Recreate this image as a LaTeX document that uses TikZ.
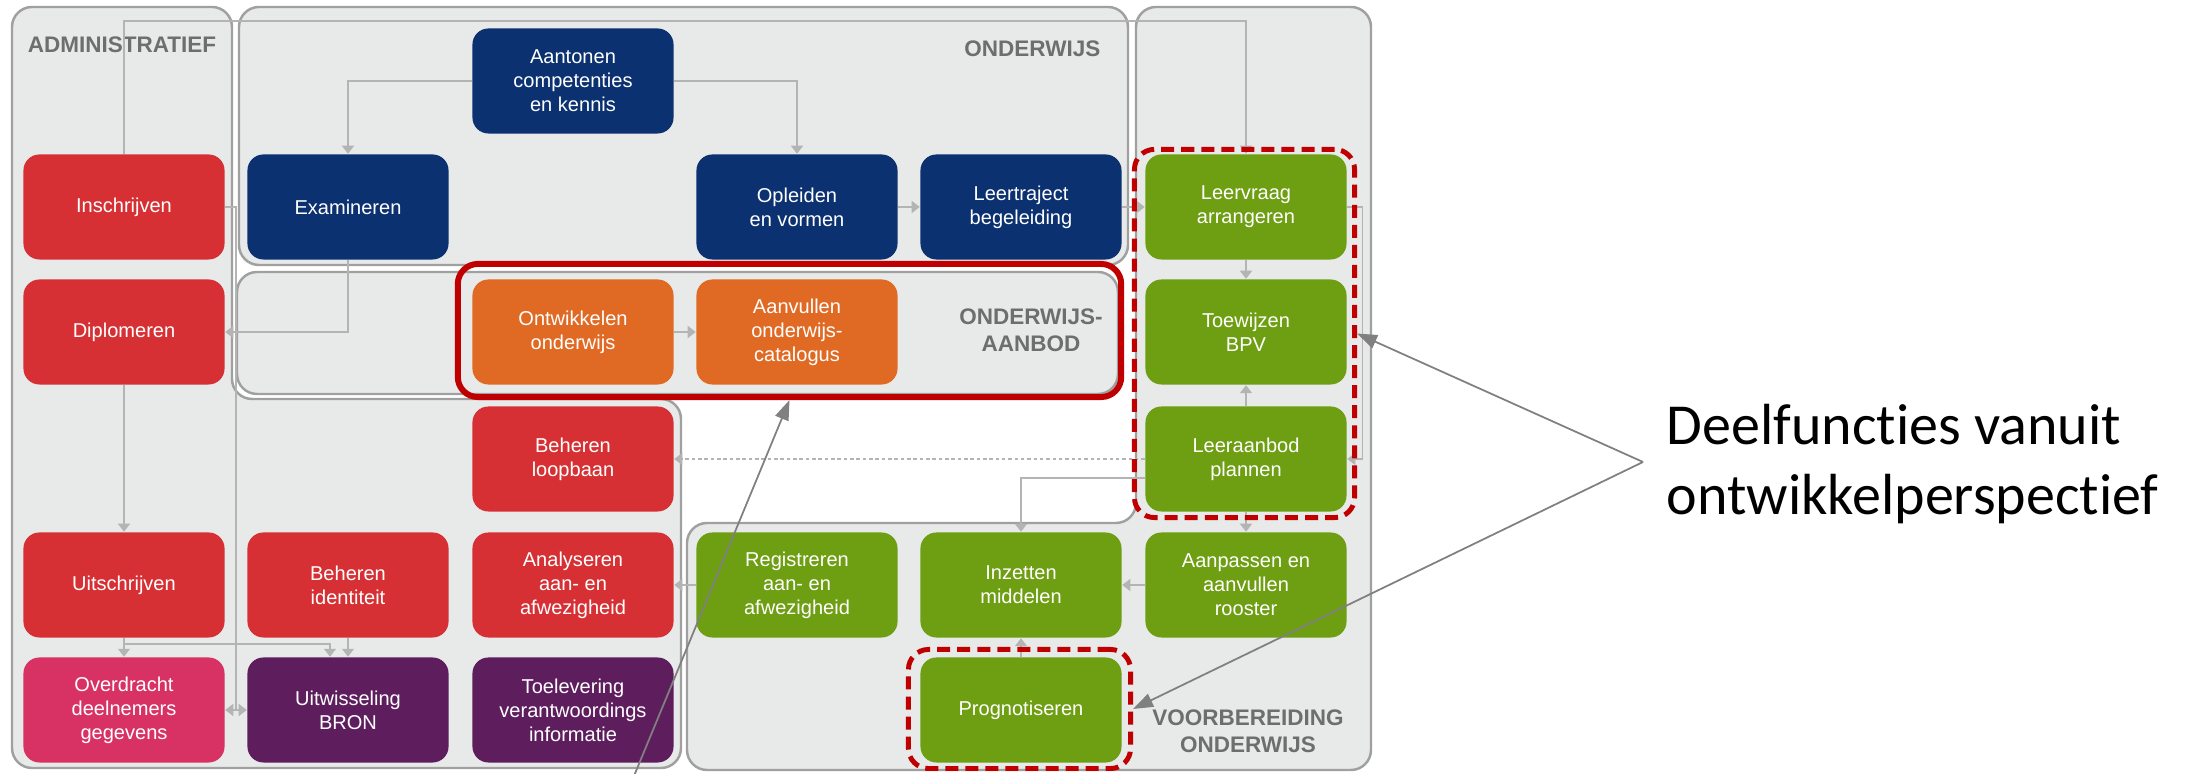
\documentclass[tikz,border=0pt]{standalone}
\usepackage{fontspec}
\setmainfont{Liberation Sans}
\newfontfamily\notefont[Ligatures=NoCommon]{Carlito}
\usetikzlibrary{arrows.meta}

\definecolor{navyblock}{RGB}{11,49,112}
\definecolor{redblock}{RGB}{214,48,52}
\definecolor{orangeblock}{RGB}{224,106,36}
\definecolor{greenblock}{RGB}{110,158,18}
\definecolor{pinkblock}{RGB}{216,50,100}
\definecolor{purpleblock}{RGB}{94,30,94}
\definecolor{panelfill}{RGB}{232,233,233}
\definecolor{panelline}{RGB}{160,160,160}
\definecolor{flowgray}{RGB}{180,180,180}
\definecolor{notegray}{RGB}{128,128,128}
\definecolor{labelgray}{RGB}{110,110,110}
\definecolor{hired}{RGB}{192,0,0}

\tikzset{
  fn/.style={fill=#1, rectangle, rounded corners=0.16cm, minimum width=2.01cm,
    minimum height=1.05cm, inner sep=0pt, text=white, align=center,
    font=\fontsize{5.7}{6.8}\selectfont},
  panel/.style={fill=panelfill, draw=panelline, line width=0.7pt, rounded corners=0.2cm},
  paneltitle/.style={text=labelgray, inner sep=0pt, align=center,
    font=\bfseries\fontsize{6.4}{7.8}\selectfont},
  flow/.style={draw=flowgray, line width=0.4pt, -{Triangle[length=0.08cm,width=0.12cm]}},
  selbox/.style={draw=hired, rectangle, rounded corners=0.2cm, inner sep=0pt},
  pointer/.style={draw=notegray, line width=0.5pt, -{Triangle[length=0.2cm,width=0.14cm]}},
}

\begin{document}
\begin{tikzpicture}[x=0.01cm,y=-0.01cm]
  \useasboundingbox (0,0) rectangle (2187,774);

  % panels
  \path[panel] (12,7) -- (232,7) -- (232,399) -- (681,399) -- (681,768) -- (12,768) -- cycle;
  \path[panel] (1136,7) -- (1371,7) -- (1371,770) -- (687,770) -- (687,523) -- (1136,523) -- cycle;
  \path[panel] (239,7) rectangle (1128,265);
  \path[panel] (237,272) rectangle (1118,394);

  \node[paneltitle] (admintitle) at (122,45) {ADMINISTRATIEF};
  \node[paneltitle, anchor=east] (onderwijstitle) at (1101,49) {ONDERWIJS};
  \node[paneltitle] (aanbodtitle) at (1031,330) {ONDERWIJS-\\AANBOD};
  \node[paneltitle] (voorbtitle) at (1248,731) {VOORBEREIDING\\ONDERWIJS};

  % functions
  \node[fn=navyblock] (aantonen) at (573,81) {Aantonen\\competenties\\en kennis};
  \node[fn=redblock] (inschrijven) at (124,207) {Inschrijven};
  \node[fn=navyblock] (examineren) at (348,207) {Examineren};
  \node[fn=navyblock] (opleiden) at (797,207) {Opleiden\\en vormen};
  \node[fn=navyblock] (leertraject) at (1021,207) {Leertraject\\begeleiding};
  \node[fn=greenblock] (leervraag) at (1246,207) {Leervraag\\arrangeren};
  \node[fn=redblock] (diplomeren) at (124,332) {Diplomeren};
  \node[fn=orangeblock] (ontwikkelen) at (573,332) {Ontwikkelen\\onderwijs};
  \node[fn=orangeblock] (aanvullen) at (797,332) {Aanvullen\\onderwijs-\\catalogus};
  \node[fn=greenblock] (toewijzen) at (1246,332) {Toewijzen\\BPV};
  \node[fn=redblock] (loopbaan) at (573,459) {Beheren\\loopbaan};
  \node[fn=greenblock] (leeraanbod) at (1246,459) {Leeraanbod\\plannen};
  \node[fn=redblock] (uitschrijven) at (124,585) {Uitschrijven};
  \node[fn=redblock] (identiteit) at (348,585) {Beheren\\identiteit};
  \node[fn=redblock] (analyseren) at (573,585) {Analyseren\\aan- en\\afwezigheid};
  \node[fn=greenblock] (registreren) at (797,585) {Registreren\\aan- en\\afwezigheid};
  \node[fn=greenblock] (inzetten) at (1021,585) {Inzetten\\middelen};
  \node[fn=greenblock] (aanpassen) at (1246,585) {Aanpassen en\\aanvullen\\rooster};
  \node[fn=pinkblock] (overdracht) at (124,710) {Overdracht\\deelnemers\\gegevens};
  \node[fn=purpleblock] (uitwisseling) at (348,710) {Uitwisseling\\BRON};
  \node[fn=purpleblock] (toelevering) at (573,710) {Toelevering\\verantwoordings\\informatie};
  \node[fn=greenblock] (prognotiseren) at (1021,710) {Prognotiseren};

  % flows
  \coordinate (topbus) at (0,21);
  \coordinate (bronbus) at (0,644);
  \coordinate (bronlink) at (236,710);
  \path (uitwisseling.north) ++(-18,0) coordinate (bronin);
  \draw[flow] (inschrijven.north) -- (inschrijven.north |- topbus) -| (leervraag.north);
  \draw[flow] (aantonen.west) -| (examineren.north);
  \draw[flow] (aantonen.east) -| (opleiden.north);
  \draw[flow] (opleiden) -- (leertraject);
  \draw[flow] (leertraject) -- (leervraag);
  \draw[flow] (examineren.south) |- (diplomeren.east);
  \draw[flow] (ontwikkelen) -- (aanvullen);
  \draw[flow] (diplomeren) -- (uitschrijven);
  \draw[flow] (uitschrijven) -- (overdracht);
  \draw[flow] (uitschrijven.south) |- (bronin |- bronbus) -- (bronin);
  \draw[flow] (identiteit) -- (uitwisseling);
  \draw[flow, {Triangle[length=0.08cm,width=0.12cm]}-{Triangle[length=0.08cm,width=0.12cm]}] (overdracht) -- (uitwisseling);
  \draw[flow, -] (inschrijven.east) -| (bronlink);
  \draw[flow, dash pattern=on 1pt off 0.8pt] (leeraanbod) -- (loopbaan);
  \draw[flow] (leervraag) -- (toewijzen);
  \draw[flow] (leeraanbod) -- (toewijzen);
  \draw[flow] (leeraanbod) -- (aanpassen);
  \draw[flow] ([yshift=-0.19cm]leeraanbod.west) -| (inzetten.north);
  \draw[flow] (leervraag.east) -- ++(15,0) |- (leeraanbod.east);
  \draw[flow] (aanpassen) -- (inzetten);
  \draw[flow] (registreren) -- (analyseren);
  \draw[flow] (prognotiseren) -- (inzetten);

  % highlights
  \node[selbox, line width=1.7pt, minimum width=6.63cm, minimum height=1.33cm] (selaanbod) at (789.5,330.5) {};
  \node[selbox, line width=1.4pt, dash pattern=on 3.7pt off 2pt, minimum width=2.2cm, minimum height=3.68cm] (selvoorb) at (1244.5,333.5) {};
  \node[selbox, line width=1.4pt, dash pattern=on 3.7pt off 2pt, minimum width=2.22cm, minimum height=1.19cm] (selprog) at (1019.5,709) {};

  % note
  \node[anchor=west, inner sep=0pt, align=left, font=\notefont\fontsize{16.5}{19.9}\selectfont] (deelfuncties) at (1666,464) {Deelfunct\kern0pt ies vanuit\\ontwikkelperspect\kern0pt ief};
  \coordinate (apex) at (1643,462);
  \coordinate (footpoint) at (634,776);
  \draw[pointer] (apex) -- (selvoorb.east);
  \draw[pointer] (apex) -- (selprog.east);
  \draw[pointer] (footpoint) -- (selaanbod.south);
\end{tikzpicture}
\end{document}
